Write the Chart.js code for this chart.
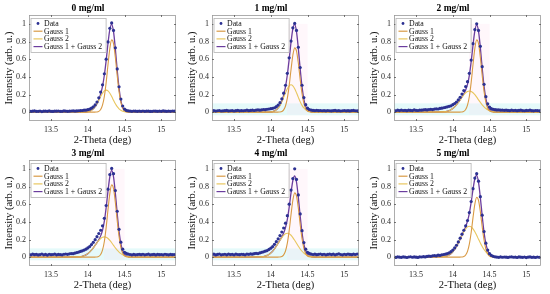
<!doctype html>
<html>
<head>
<meta charset="utf-8">
<title>XRD peak fits</title>
<script src="https://cdn.jsdelivr.net/npm/chart.js"></script>
<style>
  html, body { margin: 0; padding: 0; background: #fff; }
  body { width: 550px; height: 294px; position: relative; overflow: hidden; }
  .panel { position: absolute; width: 183px; height: 147px; }
</style>
</head>
<body>
<div class="panel" style="left:0;top:0"><canvas id="c0"></canvas></div>
<div class="panel" style="left:183px;top:0"><canvas id="c1"></canvas></div>
<div class="panel" style="left:365px;top:0"><canvas id="c2"></canvas></div>
<div class="panel" style="left:0;top:145px"><canvas id="c3"></canvas></div>
<div class="panel" style="left:183px;top:145px"><canvas id="c4"></canvas></div>
<div class="panel" style="left:365px;top:145px"><canvas id="c5"></canvas></div>
<script>
const TITLES = ['0 mg/ml', '1 mg/ml', '2 mg/ml', '3 mg/ml', '4 mg/ml', '5 mg/ml'];
const LABELS = ['Data', 'Gauss 1', 'Gauss 2', 'Gauss 1 + Gauss 2'];
const X_TICKS = [13.5, 14, 14.5, 15];
const Y_TICKS = [0, 0.2, 0.4, 0.6, 0.8, 1];

// measured points, 2-theta
const DATA_X = [13.2,13.225,13.25,13.275,13.3,13.325,13.35,13.375,13.4,13.425,13.45,13.475,13.5,13.525,13.55,13.575,13.6,13.625,13.65,13.675,13.7,13.725,13.75,13.775,13.8,13.825,13.85,13.875,
  13.9,13.925,13.95,13.975,14,14.025,14.05,14.075,14.1,14.125,14.15,14.175,14.2,14.225,14.25,14.275,14.3,14.325,14.35,14.375,14.4,14.425,14.45,14.475,14.5,14.525,14.55,14.575,14.6,14.625,14.65,14.675,14.7,
  14.725,14.75,14.775,14.8,14.825,14.85,14.875,14.9,14.925,14.95,14.975,15,15.025,15.05,15.075,15.1,15.125,15.15,15.175,15.2];

// fitted curves, 2-theta
const CURVE_X = [13.2,
  13.9,13.925,13.95,13.975,14,14.025,14.05,14.075,14.1,14.125,14.15,14.175,14.2,14.225,14.25,14.275,14.3,14.325,14.35,14.375,14.4,14.425,14.45,14.475,14.5,14.525,14.55,14.575,14.6,14.625,14.65,14.675,14.7,
  15.2];

// 0 mg/ml
const DATA_0 = [0.012,0.008,0.011,0.014,0.009,0.010,0.013,0.007,0.011,0.012,0.009,0.014,0.010,0.008,0.012,0.011,0.013,0.009,0.010,0.014,0.012,0.009,0.011,0.013,0.015,0.012,0.014,0.016,
  0.018,0.019,0.022,0.024,0.028,0.034,0.045,0.060,0.082,0.115,0.162,0.228,0.310,0.435,0.600,0.795,0.950,1.010,0.925,0.728,0.490,0.288,0.148,0.070,0.035,0.020,0.015,0.012,0.010,0.013,0.011,0.009,0.012,
  0.010,0.013,0.009,0.011,0.012,0.008,0.010,0.013,0.011,0.009,0.012,0.010,0.014,0.011,0.009,0.012,0.010,0.013,0.011,0.010];
const GAUSS1_0 = [0, 0,0,0,0,0,0,0,0,0.001,0.002,0.009,0.030,0.079,0.177,0.337,0.539,0.723,0.818,0.776,0.619,0.415,0.235,0.111,0.044,0.015,0.004,0.001,0,0,0,0,0,0, 0];
const GAUSS2_0 = [0, 0,0,0.001,0.002,0.005,0.011,0.021,0.038,0.062,0.095,0.135,0.177,0.214,0.241,0.250,0.241,0.214,0.177,0.135,0.095,0.062,0.038,0.021,0.011,0.005,0.002,0.001,0,0,0,0,0,0, 0];
const SUM_0 = [0, 0,0,0.001,0.002,0.005,0.011,0.021,0.038,0.063,0.097,0.144,0.207,0.293,0.418,0.587,0.780,0.937,0.995,0.911,0.714,0.477,0.273,0.132,0.055,0.020,0.006,0.002,0,0,0,0,0,0, 0];

// 1 mg/ml
const DATA_1 = [0.014,0.018,0.012,0.016,0.019,0.013,0.015,0.017,0.020,0.014,0.016,0.018,0.013,0.017,0.021,0.015,0.018,0.016,0.019,0.022,0.017,0.020,0.023,0.019,0.024,0.026,0.022,0.027,
  0.030,0.028,0.033,0.036,0.040,0.043,0.050,0.062,0.080,0.108,0.150,0.215,0.305,0.440,0.615,0.805,0.955,1.005,0.925,0.735,0.505,0.305,0.165,0.085,0.045,0.030,0.024,0.020,0.018,0.021,0.017,0.019,0.016,
  0.018,0.015,0.019,0.016,0.014,0.018,0.020,0.015,0.017,0.013,0.016,0.019,0.015,0.017,0.014,0.018,0.020,0.016,0.015,0.018];
const GAUSS1_1 = [0, 0,0,0,0,0,0,0,0,0.001,0.002,0.008,0.026,0.070,0.158,0.300,0.480,0.644,0.728,0.691,0.551,0.369,0.209,0.099,0.039,0.013,0.004,0.001,0,0,0,0,0,0, 0];
const GAUSS2_1 = [0, 0,0,0,0.001,0.003,0.007,0.014,0.026,0.047,0.077,0.118,0.167,0.219,0.266,0.298,0.310,0.298,0.266,0.219,0.167,0.118,0.077,0.047,0.026,0.014,0.007,0.003,0.001,0,0,0,0,0, 0];
const SUM_1 = [0, 0,0,0,0.001,0.003,0.007,0.014,0.026,0.048,0.079,0.126,0.193,0.289,0.424,0.598,0.790,0.942,0.994,0.910,0.718,0.487,0.286,0.146,0.065,0.027,0.011,0.004,0.001,0,0,0,0,0, 0];

// 2 mg/ml
const DATA_2 = [0.020,0.016,0.022,0.018,0.024,0.019,0.021,0.017,0.023,0.020,0.018,0.025,0.021,0.019,0.024,0.022,0.026,0.028,0.025,0.030,0.032,0.029,0.035,0.038,0.036,0.042,0.045,0.050,
  0.055,0.060,0.066,0.072,0.085,0.098,0.115,0.140,0.168,0.205,0.245,0.290,0.345,0.440,0.590,0.775,0.935,1.000,0.925,0.745,0.515,0.315,0.175,0.095,0.058,0.040,0.032,0.028,0.025,0.027,0.022,0.024,0.021,
  0.023,0.020,0.018,0.022,0.019,0.021,0.017,0.020,0.023,0.018,0.016,0.020,0.019,0.022,0.017,0.015,0.019,0.018,0.016,0.020];
const GAUSS1_2 = [0, 0,0,0,0,0,0,0,0,0.001,0.002,0.009,0.030,0.079,0.177,0.337,0.539,0.723,0.818,0.776,0.619,0.415,0.235,0.111,0.044,0.015,0.004,0.001,0,0,0,0,0,0, 0];
const GAUSS2_2 = [0, 0.006,0.011,0.017,0.027,0.041,0.060,0.083,0.110,0.139,0.170,0.198,0.220,0.235,0.240,0.235,0.220,0.198,0.170,0.139,0.110,0.083,0.060,0.041,0.027,0.017,0.011,0.006,0.003,0.002,0.001,0,0,0, 0];
const SUM_2 = [0, 0.006,0.011,0.017,0.027,0.041,0.060,0.083,0.110,0.140,0.172,0.207,0.250,0.314,0.417,0.572,0.759,0.921,0.988,0.915,0.729,0.498,0.295,0.152,0.071,0.032,0.015,0.007,0.003,0.002,0.001,0,0,0, 0];

// 3 mg/ml
const DATA_3 = [0.030,0.026,0.034,0.028,0.032,0.025,0.029,0.036,0.027,0.031,0.024,0.033,0.028,0.030,0.035,0.026,0.031,0.029,0.027,0.033,0.036,0.032,0.038,0.041,0.039,0.046,0.052,0.058,
  0.065,0.072,0.080,0.090,0.105,0.120,0.142,0.168,0.198,0.232,0.268,0.305,0.355,0.440,0.585,0.770,0.935,1.005,0.945,0.755,0.520,0.315,0.170,0.090,0.055,0.042,0.035,0.030,0.027,0.031,0.026,0.029,0.032,
  0.028,0.033,0.027,0.030,0.034,0.026,0.029,0.031,0.025,0.032,0.028,0.030,0.027,0.033,0.029,0.026,0.031,0.028,0.030,0.027];
const GAUSS1_3 = [0, 0,0,0,0,0,0,0,0,0.001,0.002,0.009,0.030,0.079,0.177,0.337,0.539,0.723,0.818,0.776,0.619,0.415,0.235,0.111,0.044,0.015,0.004,0.001,0,0,0,0,0,0, 0];
const GAUSS2_3 = [0, 0.006,0.010,0.017,0.026,0.040,0.057,0.079,0.105,0.134,0.163,0.189,0.211,0.225,0.230,0.225,0.211,0.189,0.163,0.134,0.105,0.079,0.057,0.040,0.026,0.017,0.010,0.006,0.003,0.002,0.001,0,0,0, 0];
const SUM_3 = [0, 0.006,0.010,0.017,0.026,0.040,0.057,0.079,0.105,0.135,0.165,0.198,0.241,0.304,0.407,0.562,0.750,0.912,0.981,0.910,0.724,0.494,0.292,0.151,0.070,0.032,0.014,0.007,0.003,0.002,0.001,0,0,0, 0];

// 4 mg/ml
const DATA_4 = [0.028,0.034,0.025,0.031,0.036,0.027,0.030,0.033,0.026,0.035,0.029,0.032,0.027,0.034,0.030,0.028,0.033,0.031,0.026,0.035,0.032,0.037,0.034,0.040,0.043,0.041,0.048,0.055,
  0.060,0.068,0.075,0.088,0.102,0.120,0.145,0.175,0.208,0.245,0.285,0.330,0.385,0.470,0.600,0.760,0.890,1.000,0.880,0.705,0.490,0.300,0.165,0.090,0.055,0.042,0.035,0.030,0.034,0.028,0.032,0.036,0.029,
  0.033,0.027,0.031,0.035,0.029,0.034,0.026,0.032,0.038,0.030,0.027,0.033,0.029,0.035,0.031,0.028,0.034,0.030,0.036,0.032];
const GAUSS1_4 = [0, 0,0,0,0,0,0,0,0,0.001,0.002,0.008,0.026,0.070,0.158,0.300,0.480,0.644,0.728,0.691,0.551,0.369,0.209,0.099,0.039,0.013,0.004,0.001,0,0,0,0,0,0, 0];
const GAUSS2_4 = [0, 0.007,0.012,0.020,0.031,0.046,0.067,0.093,0.124,0.157,0.191,0.222,0.248,0.264,0.270,0.264,0.248,0.222,0.191,0.157,0.124,0.093,0.067,0.046,0.031,0.020,0.012,0.007,0.004,0.002,0.001,0,0,0, 0];
const SUM_4 = [0, 0.007,0.012,0.020,0.031,0.046,0.067,0.093,0.124,0.158,0.193,0.230,0.274,0.334,0.428,0.564,0.728,0.866,0.919,0.848,0.675,0.462,0.276,0.145,0.070,0.033,0.016,0.008,0.004,0.002,0.001,0,0,0, 0];

// 5 mg/ml
const DATA_5 = [0.002,-0.003,0.004,0.000,-0.002,0.003,0.001,-0.004,0.002,0.005,-0.001,0.003,0.000,-0.003,0.004,0.002,0.006,0.003,0.008,0.012,0.009,0.015,0.018,0.014,0.022,0.020,0.026,0.030,
  0.035,0.040,0.048,0.062,0.080,0.105,0.135,0.172,0.215,0.260,0.305,0.355,0.415,0.505,0.630,0.775,0.895,0.945,0.860,0.685,0.475,0.290,0.158,0.080,0.040,0.020,0.010,0.004,0.001,-0.002,0.003,-0.001,0.002,
  0.000,-0.003,0.002,0.004,-0.001,0.001,-0.004,0.003,0.000,-0.002,0.002,-0.005,0.001,0.003,-0.002,0.000,-0.004,0.002,-0.001,-0.006];
const GAUSS1_5 = [0, 0,0,0,0,0,0,0,0,0.001,0.002,0.007,0.024,0.065,0.147,0.279,0.447,0.600,0.678,0.643,0.513,0.344,0.194,0.092,0.037,0.012,0.003,0.001,0,0,0,0,0,0, 0];
const GAUSS2_5 = [0, 0.009,0.015,0.025,0.040,0.060,0.087,0.121,0.160,0.203,0.247,0.288,0.321,0.343,0.350,0.343,0.321,0.288,0.247,0.203,0.160,0.121,0.087,0.060,0.040,0.025,0.015,0.009,0.005,0.003,0.001,0,0,0, 0];
const SUM_5 = [0, 0.009,0.015,0.025,0.040,0.060,0.087,0.121,0.160,0.204,0.249,0.295,0.345,0.408,0.497,0.622,0.768,0.888,0.925,0.846,0.673,0.465,0.281,0.152,0.077,0.037,0.018,0.010,0.005,0.003,0.001,0,0,0, 0];

const PANELS = [
  [DATA_0, GAUSS1_0, GAUSS2_0, SUM_0],
  [DATA_1, GAUSS1_1, GAUSS2_1, SUM_1],
  [DATA_2, GAUSS1_2, GAUSS2_2, SUM_2],
  [DATA_3, GAUSS1_3, GAUSS2_3, SUM_3],
  [DATA_4, GAUSS1_4, GAUSS2_4, SUM_4],
  [DATA_5, GAUSS1_5, GAUSS2_5, SUM_5]
];
// faint tint behind the baseline in some panels
const TINTED = [false, true, true, true, true, false];

const COLORS = ['#2c3192', '#d99a45', '#e8c65e', '#6b3d9e'];
const FONT = '"Liberation Serif", "Times New Roman", serif';

function zip(xs, ys) {
  return xs.map((x, i) => ({ x: x, y: ys[i] }));
}

const frame = {
  id: 'frame',
  beforeDatasetsDraw(chart, args, opts) {
    if (!opts.tint) return;
    const { ctx, chartArea: a, scales: { x, y } } = chart;
    ctx.save();
    ctx.fillStyle = 'rgba(170,240,240,0.3)';
    const top = y.getPixelForValue(0.1), bot = y.getPixelForValue(-0.035);
    ctx.fillRect(a.left, top, a.right - a.left, bot - top);
    ctx.fillStyle = 'rgba(255,215,235,0.2)';
    const l = x.getPixelForValue(14.22), r = x.getPixelForValue(14.5);
    ctx.fillRect(l, y.getPixelForValue(1.0), r - l, y.getPixelForValue(-0.03) - y.getPixelForValue(1.0));
    ctx.restore();
  },
  afterDatasetsDraw(chart) {
    const { ctx, chartArea: a, scales: { x, y } } = chart;
    ctx.save();
    ctx.strokeStyle = '#9a9a9a';
    ctx.lineWidth = 0.8;
    ctx.strokeRect(a.left + 0.5, a.top + 0.5, a.right - a.left - 1, a.bottom - a.top - 1);
    ctx.strokeStyle = '#555';
    ctx.beginPath();
    X_TICKS.forEach(v => {
      const px = Math.round(x.getPixelForValue(v)) + 0.5;
      ctx.moveTo(px, a.bottom); ctx.lineTo(px, a.bottom - 2);
      ctx.moveTo(px, a.top); ctx.lineTo(px, a.top + 2);
    });
    Y_TICKS.forEach(v => {
      const py = Math.round(y.getPixelForValue(v)) + 0.5;
      ctx.moveTo(a.left, py); ctx.lineTo(a.left + 2, py);
      ctx.moveTo(a.right, py); ctx.lineTo(a.right - 2, py);
    });
    ctx.stroke();
    ctx.restore();
  }
};

const legendBox = {
  id: 'legendBox',
  afterDraw(chart) {
    const { ctx, chartArea: a } = chart;
    const x0 = a.left + 1.5, y0 = a.top + 3;
    ctx.save();
    ctx.font = '7.8px ' + FONT;
    const tw = Math.max(...LABELS.map(t => ctx.measureText(t).width));
    const w = 14 + tw + 3, h = 34;
    ctx.fillStyle = '#fff';
    ctx.fillRect(x0, y0, w, h);
    ctx.strokeStyle = '#b4b4b4';
    ctx.lineWidth = 0.8;
    ctx.strokeRect(x0 + 0.5, y0 + 0.5, w, h);
    chart.data.datasets.forEach((ds, k) => {
      const cy = y0 + 5.5 + k * 7.7;
      if (k === 0) {
        ctx.fillStyle = ds.pointBackgroundColor;
        ctx.beginPath();
        ctx.arc(x0 + 7.5, cy, 1.4, 0, Math.PI * 2);
        ctx.fill();
      } else {
        ctx.strokeStyle = ds.borderColor;
        ctx.lineWidth = 1.2;
        ctx.beginPath();
        ctx.moveTo(x0 + 3, cy); ctx.lineTo(x0 + 12, cy);
        ctx.stroke();
      }
      ctx.fillStyle = '#111';
      ctx.textBaseline = 'middle';
      ctx.fillText(ds.label, x0 + 13.5, cy + 0.5);
    });
    ctx.restore();
  }
};

PANELS.forEach((p, n) => {
  const datasets = [
    {
      type: 'scatter', label: LABELS[0], data: zip(DATA_X, p[0]),
      pointRadius: 1.6, pointBorderWidth: 0, pointBackgroundColor: COLORS[0], pointBorderColor: COLORS[0]
    }
  ];
  for (let k = 1; k < 4; k++) {
    datasets.push({
      type: 'line', label: LABELS[k], data: zip(CURVE_X, p[k]),
      borderColor: COLORS[k], borderWidth: k === 3 ? 1.3 : 1.1,
      pointRadius: 0, fill: false, cubicInterpolationMode: 'monotone'
    });
  }
  new Chart(document.getElementById('c' + n), {
    type: 'scatter',
    data: { datasets: datasets },
    options: {
      responsive: true,
      maintainAspectRatio: false,
      animation: false,
      layout: { padding: { left: 0, right: 7, top: 0, bottom: 0 } },
      plugins: {
        legend: { display: false },
        tooltip: { enabled: false },
        title: {
          display: true, text: TITLES[n], color: '#000',
          font: { family: FONT, size: 9.5, weight: 'bold' },
          padding: { top: 2.5, bottom: 1.1 }
        },
        frame: { tint: TINTED[n] }
      },
      scales: {
        x: {
          type: 'linear', min: 13.2, max: 15.2,
          afterBuildTicks: s => { s.ticks = X_TICKS.map(v => ({ value: v })); },
          afterFit: s => { s.height = 26; },
          grid: { display: false, drawTicks: false },
          border: { display: false },
          ticks: { font: { family: FONT, size: 8 }, color: '#262626', padding: 4, maxRotation: 0, autoSkip: false, callback: v => String(v) },
          title: { display: true, text: '2-Theta (deg)', color: '#111', font: { family: FONT, size: 10.5 }, padding: { top: 0, bottom: 0.8 } }
        },
        y: {
          type: 'linear', min: -0.1, max: 1.1,
          afterBuildTicks: s => { s.ticks = Y_TICKS.map(v => ({ value: v })); },
          afterFit: s => { s.width = 29; },
          grid: { display: false, drawTicks: false },
          border: { display: false },
          ticks: { font: { family: FONT, size: 8 }, color: '#262626', padding: 3, callback: v => String(v) },
          title: { display: true, text: 'Intensity (arb. u.)', color: '#111', font: { family: FONT, size: 10.5 }, padding: { top: 2.5, bottom: 0 } }
        }
      }
    },
    plugins: [frame, legendBox]
  });
});
</script>
</body>
</html>
